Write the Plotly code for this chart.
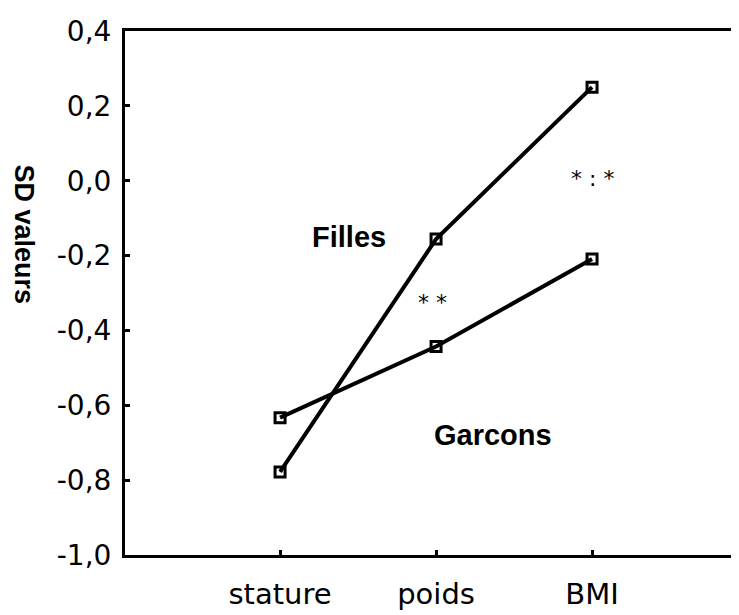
import plotly.graph_objects as go

categories = ["stature", "poids", "BMI"]
filles = [-0.778, -0.156, 0.250]
garcons = [-0.633, -0.443, -0.209]
y_ticks = [0.4, 0.2, 0.0, -0.2, -0.4, -0.6, -0.8, -1.0]
y_tick_labels = ["0,4", "0,2", "0,0", "-0,2", "-0,4", "-0,6", "-0,8", "-1,0"]

xpos = list(range(len(categories)))

fig = go.Figure()
for name, vals in [("Filles", filles), ("Garcons", garcons)]:
    fig.add_trace(go.Scatter(
        x=xpos, y=vals, mode="lines+markers", name=name,
        line=dict(color="black", width=4),
        marker=dict(symbol="square-open", size=10, color="black",
                    line=dict(color="black", width=3)),
        showlegend=False,
    ))

fig.add_annotation(x=0.442, y=-0.150, text="<b>Filles</b>", showarrow=False,
                   font=dict(family="Liberation Sans", size=29, color="black"))
fig.add_annotation(x=1.362, y=-0.679, text="<b>Garcons</b>", showarrow=False,
                   font=dict(family="Liberation Sans", size=29, color="black"))
fig.add_annotation(x=0.974, y=-0.325, text="* *", showarrow=False,
                   font=dict(family="DejaVu Sans", size=22, color="black"))
fig.add_annotation(x=2.0, y=0.005, text="* : *", showarrow=False,
                   font=dict(family="DejaVu Sans", size=22, color="black"))
# y-axis title (reads top to bottom, placed above the plot centre as in the source)
fig.add_annotation(xref="paper", yref="paper", x=-0.164, y=0.611,
                   xanchor="center", yanchor="middle", textangle=90,
                   text="<b>SD valeurs</b>", showarrow=False,
                   font=dict(family="Liberation Sans", size=27, color="black"))

fig.update_layout(
    width=731, height=607,
    margin=dict(l=117, r=0, t=23, b=60),
    paper_bgcolor="white", plot_bgcolor="white",
    font=dict(family="DejaVu Sans", color="black"),
)
fig.update_xaxes(
    range=[-0.994, 2.942], tickvals=xpos, ticktext=categories,
    showgrid=False, zeroline=False, showline=True, linecolor="black", linewidth=3,
    mirror=True, ticks="inside", ticklen=5, tickwidth=3, tickcolor="black",
    ticklabelstandoff=11,
    tickfont=dict(family="DejaVu Sans", size=29, color="black"),
)
fig.update_yaxes(
    range=[-1.0, 0.4], tickvals=y_ticks, ticktext=y_tick_labels,
    showgrid=False, zeroline=False, showline=True, linecolor="black", linewidth=3,
    ticks="inside", ticklen=5, tickwidth=3, tickcolor="black",
    ticklabelstandoff=5,
    tickfont=dict(family="DejaVu Sans", size=28, color="black"),
)

fig.write_html("out.html")
